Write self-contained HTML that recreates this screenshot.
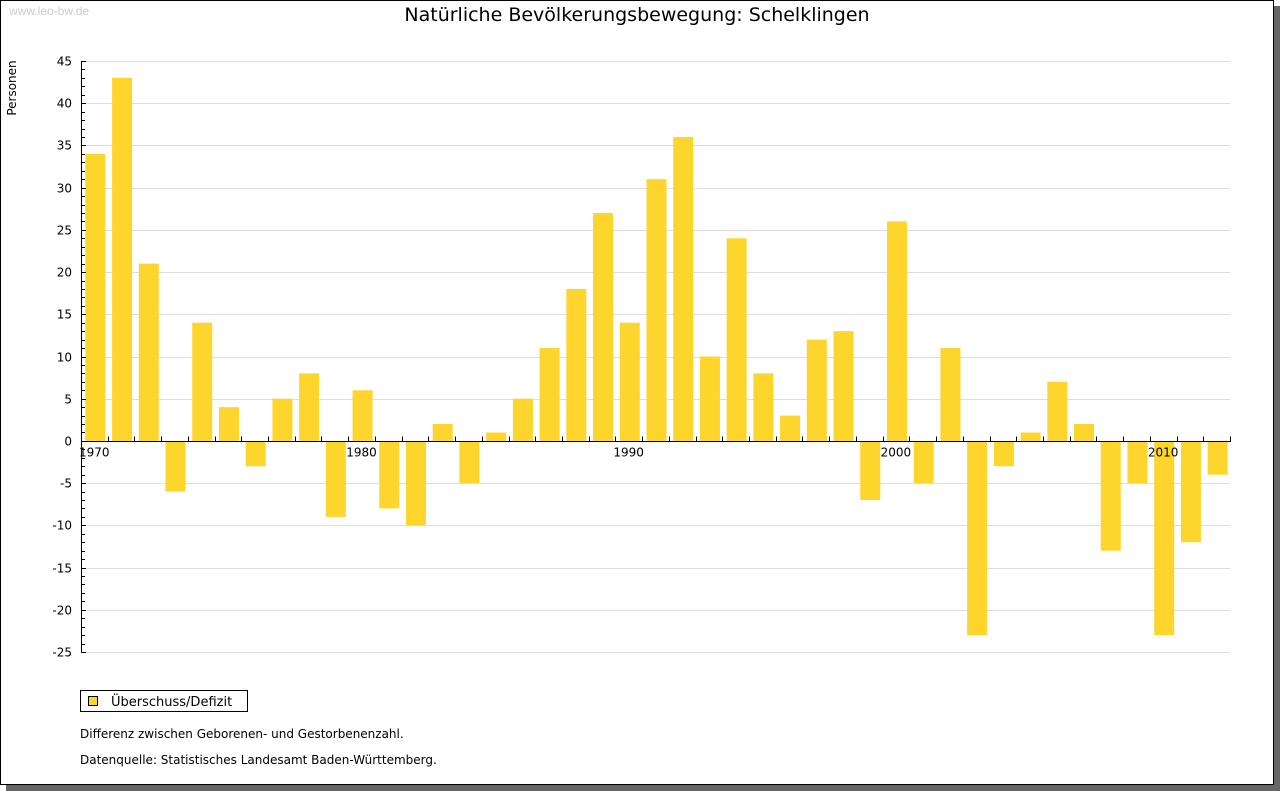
<!DOCTYPE html>
<html><head><meta charset="utf-8"><style>
body{margin:0;background:#fff;width:1280px;height:791px;overflow:hidden;font-family:"Liberation Sans","DejaVu Sans",sans-serif}
</style></head><body>
<svg width="1280" height="791" xmlns="http://www.w3.org/2000/svg">
<rect x="6" y="6" width="1274" height="785" fill="#666"/>
<rect x="0.5" y="0.5" width="1273" height="784" fill="#fff" stroke="#000"/>
<text x="9" y="15" font-size="12" fill="#ccc">www.leo-bw.de</text>
<text x="637" y="21" font-size="19" text-anchor="middle" font-family="DejaVu Sans,sans-serif" fill="#000">Natürliche Bevölkerungsbewegung: Schelklingen</text>
<text transform="translate(16,88) rotate(-90)" font-size="12" text-anchor="middle" font-family="DejaVu Sans,sans-serif">Personen</text>
<g id="grid"></g><g id="bars"></g><g id="axes"></g>
<rect x="80.5" y="690.5" width="167" height="21" fill="#fff" stroke="#000"/>
<rect x="88.5" y="696.5" width="9" height="9" fill="#FDD52D" stroke="#000"/>
<text x="111" y="706" font-size="13" font-family="DejaVu Sans,sans-serif">Überschuss/Defizit</text>
<text x="80" y="738" font-size="12" font-family="DejaVu Sans,sans-serif">Differenz zwischen Geborenen- und Gestorbenenzahl.</text>
<text x="80" y="764" font-size="12" font-family="DejaVu Sans,sans-serif">Datenquelle: Statistisches Landesamt Baden-Württemberg.</text>
</svg>
<script>
const years=[1970,1971,1972,1973,1974,1975,1976,1977,1978,1979,1980,1981,1982,1983,1984,1985,1986,1987,1988,1989,1990,1991,1992,1993,1994,1995,1996,1997,1998,1999,2000,2001,2002,2003,2004,2005,2006,2007,2008,2009,2010,2011,2012];
const values=[34,43,21,-6,14,4,-3,5,8,-9,6,-8,-10,2,-5,1,5,11,18,27,14,31,36,10,24,8,3,12,13,-7,26,-5,11,-23,-3,1,7,2,-13,-5,-23,-12,-4];
const yTicks=[45,40,35,30,25,20,15,10,5,0,-5,-10,-15,-20,-25];
const xLabels=[1970,1980,1990,2000,2010];
const NS="http://www.w3.org/2000/svg";
const X0=81,X1=1230,Y0=61,Y1=652,YMAX=45,YMIN=-25;
const band=(X1-X0)/years.length;
const y=v=>Y0+(YMAX-v)*(Y1-Y0)/(YMAX-YMIN);
const x=i=>X0+i*band;
function mk(t,a,p){const e=document.createElementNS(NS,t);for(const k in a)e.setAttribute(k,a[k]);p.appendChild(e);return e;}
const grid=document.getElementById('grid'),bars=document.getElementById('bars'),axes=document.getElementById('axes');
yTicks.forEach(v=>{
 const yy=Math.round(y(v))+0.5;
 if(v!==0){const l=mk('line',{x1:X0,x2:X1,y1:yy,y2:yy,stroke:'#ddd'},grid);
 
 }
 const t=mk('text',{x:72,y:yy+4,'font-size':12,'text-anchor':'end','font-family':'DejaVu Sans,sans-serif'},axes);t.textContent=v;
 
 
});
for(let v=YMIN;v<=YMAX;v++){const yy=Math.round(y(v))+0.5;mk('line',{x1:X0,x2:X0+(v%5===0?5:4),y1:yy,y2:yy,stroke:'#000'},axes);}
values.forEach((v,i)=>{
 const top=y(Math.max(v,0)),bot=y(Math.min(v,0));
 const r=mk('rect',{x:x(i)+(band-20)/2+1,y:top,width:20,height:bot-top,fill:'#FDD52D'},bars);
 
 
});
const zy=Math.round(y(0))+0.5;
const xa=mk('line',{x1:X0,x2:X1+1,y1:zy,y2:zy,stroke:'#000'},axes);


const ya=mk('line',{x1:X0+0.5,x2:X0+0.5,y1:Y0,y2:Y1,stroke:'#000'},axes);


for(let i=0;i<=years.length;i++){const xx=Math.round(x(i))+0.5;mk('line',{x1:xx,x2:xx,y1:zy-5,y2:zy,stroke:'#000'},axes);}
xLabels.forEach(yr=>{
 const i=years.indexOf(yr);
 const t=mk('text',{x:x(i)-2,y:zy+15,'font-size':12,'font-family':'DejaVu Sans,sans-serif'},axes);t.textContent=yr;
 
 
});
</script>
</body></html>
